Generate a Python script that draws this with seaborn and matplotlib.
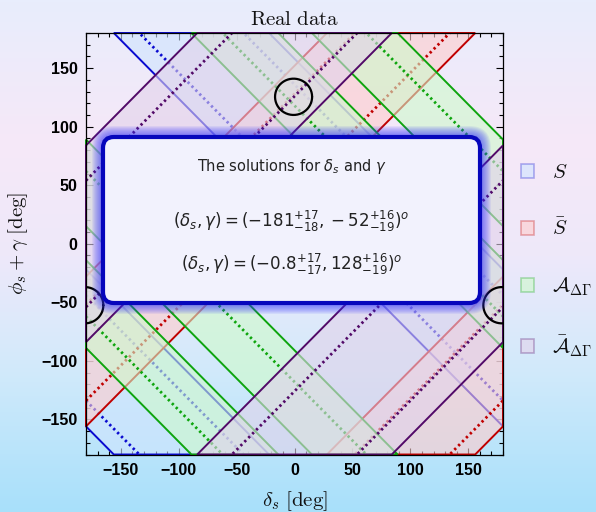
import numpy as np
import pandas as pd
import matplotlib
matplotlib.use("Agg")
import matplotlib.pyplot as plt
import seaborn as sns
from matplotlib.patches import Polygon, FancyBboxPatch, Patch
from matplotlib.colors import LinearSegmentedColormap, to_rgba
from matplotlib.ticker import MultipleLocator

# ---------------- data (degrees) ----------------
axis_range = [-180, 180]
tick_values = [-150, -100, -50, 0, 50, 100, 150]

# S and A_dG depend on u = delta_s + (phi_s+gamma); Sbar and Abar on v = (phi_s+gamma) - delta_s
S_lo = [24]
S_hi = [158]
S_mid = [46, 136]

Sbar_lo = [24]
Sbar_hi = [152]
Sbar_mid = [46, 128]

A_lo = [91, -165]
A_hi = [166, -91]
A_mid = [118, -118]

Abar_lo = [96]
Abar_hi = [264]
Abar_mid = [126, -126]

sol_delta = [-0.8, -181.0]
sol_phi = [125.5, -52.5]
sol_rad_delta = [16.0, 16.0]
sol_rad_phi = [15.5, 15.5]

legend_labels = [r"$S$", r"$\bar{S}$", r"$\mathcal{A}_{\Delta\Gamma}$",
                 r"$\bar{\mathcal{A}}_{\Delta\Gamma}$"]
box_title = r"The solutions for $\delta_s$ and $\gamma$"
box_lines = [r"$(\delta_s, \gamma) = (-181^{+17}_{-18}, -52^{+16}_{-19})^o$",
             r"$(\delta_s, \gamma) = (-0.8^{+17}_{-17}, 128^{+16}_{-19})^o$"]
title_text = r"$\mathrm{Real\ data}$"
xlabel_text = r"$\delta_s\ [\mathrm{deg}]$"
ylabel_text = r"$\phi_s + \gamma\ [\mathrm{deg}]$"

# ---------------- style ----------------
sns.set_theme(style="ticks")
plt.rcParams["font.family"] = ["DejaVu Sans"]
plt.rcParams["axes.unicode_minus"] = True

fill_alpha = 0.6
observables = [
    # name, sign s (y + s*delta), lo, hi, mid, fill, line
    ("S", 1, S_lo, S_hi, S_mid, "#cfe4ff", "#0a0ad0"),
    ("Sbar", -1, Sbar_lo, Sbar_hi, Sbar_mid, "#ffcccc", "#c00000"),
    ("A", 1, A_lo, A_hi, A_mid, "#cefacb", "#0ea50e"),
    ("Abar", -1, Abar_lo, Abar_hi, Abar_mid, "#e2d2ea", "#520a68"),
]

fig = plt.figure(figsize=(5.96, 5.12), dpi=100)

# background gradient
bg = fig.add_axes([0, 0, 1, 1], zorder=-10)
cmap = LinearSegmentedColormap.from_list(
    "bg", [(0.0, "#a8e0fa"), (0.28, "#d2eafa"), (0.5, "#eee8fa"),
           (0.72, "#f6e8f8"), (1.0, "#e8edfc")])
bg.imshow(np.linspace(0, 1, 256).reshape(-1, 1), aspect="auto", cmap=cmap,
          origin="lower", extent=[0, 1, 0, 1])
bg.axis("off")

ax = fig.add_axes([86 / 596, 57.5 / 512, 417 / 596, 421.5 / 512])
ax.patch.set_alpha(0)
lo_lim, hi_lim = axis_range
square = [(lo_lim, lo_lim), (hi_lim, lo_lim), (hi_lim, hi_lim), (lo_lim, hi_lim)]


def clip_half(poly, fn):
    out = []
    n = len(poly)
    for i in range(n):
        p, q = poly[i], poly[(i + 1) % n]
        fp, fq = fn(*p), fn(*q)
        if fp >= 0:
            out.append(p)
        if fp * fq < 0:
            t = fp / (fp - fq)
            out.append((p[0] + t * (q[0] - p[0]), p[1] + t * (q[1] - p[1])))
    return out


dgrid = np.array([lo_lim, hi_lim], dtype=float)
for idx, (name, s, lo, hi, mid, fc, lc) in enumerate(observables):
    z = 2 + idx * 0.1
    for a, b in zip(lo, hi):
        for k in (-1, 0, 1):
            aa, bb = a + 360 * k, b + 360 * k
            poly = clip_half(square, lambda d, y: y + s * d - aa)
            if len(poly) >= 3:
                poly = clip_half(poly, lambda d, y: bb - (y + s * d))
            if len(poly) >= 3:
                ax.add_patch(Polygon(poly, closed=True,
                                     facecolor=to_rgba(fc, fill_alpha),
                                     edgecolor=lc, lw=1.4, zorder=z,
                                     clip_on=False))
    for c in mid:
        for k in (-1, 0, 1):
            yv = c + 360 * k - s * dgrid
            sns.lineplot(x=dgrid, y=yv, ax=ax, color=lc, lw=2.0,
                         linestyle=(0, (0.85, 1.15)), zorder=z + 0.05,
                         estimator=None, sort=False)

# solution contours
theta = np.linspace(0, 2 * np.pi, 200)
for cd, cp, rd, rp in zip(sol_delta, sol_phi, sol_rad_delta, sol_rad_phi):
    for shift in (-360, 0, 360):
        sns.lineplot(x=cd + shift + rd * np.cos(theta), y=cp + rp * np.sin(theta),
                     ax=ax, color="black", lw=1.6, zorder=3,
                     estimator=None, sort=False)

ax.set_xlim(lo_lim, hi_lim)
ax.set_ylim(lo_lim, hi_lim)
ax.set_xticks(tick_values)
ax.set_yticks(tick_values)
ax.xaxis.set_minor_locator(MultipleLocator(10))
ax.yaxis.set_minor_locator(MultipleLocator(10))
ax.tick_params(which="both", direction="in", top=True, right=True,
               color="black", width=0.8)
ax.tick_params(which="major", length=5, pad=6)
ax.tick_params(which="minor", length=2.8)
for lab in ax.get_xticklabels() + ax.get_yticklabels():
    lab.set_fontfamily("Liberation Sans")
    lab.set_fontweight("bold")
    lab.set_fontsize(11.5)
    lab.set_color("black")
for sp in ax.spines.values():
    sp.set_color("black")
    sp.set_linewidth(0.9)
    sp.set_zorder(2.5)

ax.set_title(title_text, fontsize=15, pad=6, math_fontfamily="cm", color="#111111")
ax.set_xlabel(xlabel_text, fontsize=15, labelpad=8, math_fontfamily="cm", color="#111111")
ax.set_ylabel(ylabel_text, fontsize=15, labelpad=8, math_fontfamily="cm", color="#111111")

# text box with glow
bx0, by0 = (103 - 86) / 417, (454.5 - 303) / 421.5
bw, bh = (480 - 103) / 417, (303 - 137) / 421.5
for i in range(10):
    p = 0.0026 * (i + 1)
    ax.add_patch(FancyBboxPatch((bx0 - p, by0 - p), bw + 2 * p, bh + 2 * p,
                                boxstyle="round,pad=0,rounding_size=%f" % (0.026 + p),
                                transform=ax.transAxes, facecolor="#3232ff",
                                edgecolor="none", alpha=0.085, zorder=20,
                                clip_on=False))
ax.add_patch(FancyBboxPatch((bx0, by0), bw, bh,
                            boxstyle="round,pad=0,rounding_size=0.026",
                            transform=ax.transAxes, facecolor="#f2f2fd",
                            edgecolor="#0606bc", lw=3.0, zorder=21, clip_on=False))
cx = bx0 + bw / 2
ax.text(cx, (454.5 - 167) / 421.5, box_title, transform=ax.transAxes, ha="center",
        va="center", fontsize=10.5, color="#222222", zorder=22,
        math_fontfamily="dejavusans")
for yy, t in zip([221, 264], box_lines):
    ax.text(cx, (454.5 - yy) / 421.5, t, transform=ax.transAxes, ha="center",
            va="center", fontsize=12, color="#222222", zorder=22,
            math_fontfamily="dejavusans")

# legend
handles = [Patch(facecolor=to_rgba(fc, fill_alpha), edgecolor=to_rgba(lc, 0.3), lw=1.2)
           for (_, _, _, _, _, fc, lc) in observables]
leg = ax.legend(handles, legend_labels, loc="center left",
                bbox_to_anchor=(1.043, 0.46), frameon=False, fontsize=15,
                handlelength=0.65, handleheight=0.65, handletextpad=0.85,
                labelspacing=1.72, borderpad=0, borderaxespad=0)
for t in leg.get_texts():
    t.set_math_fontfamily("cm")
    t.set_color("#111111")

fig.savefig("out.png", dpi=100)
